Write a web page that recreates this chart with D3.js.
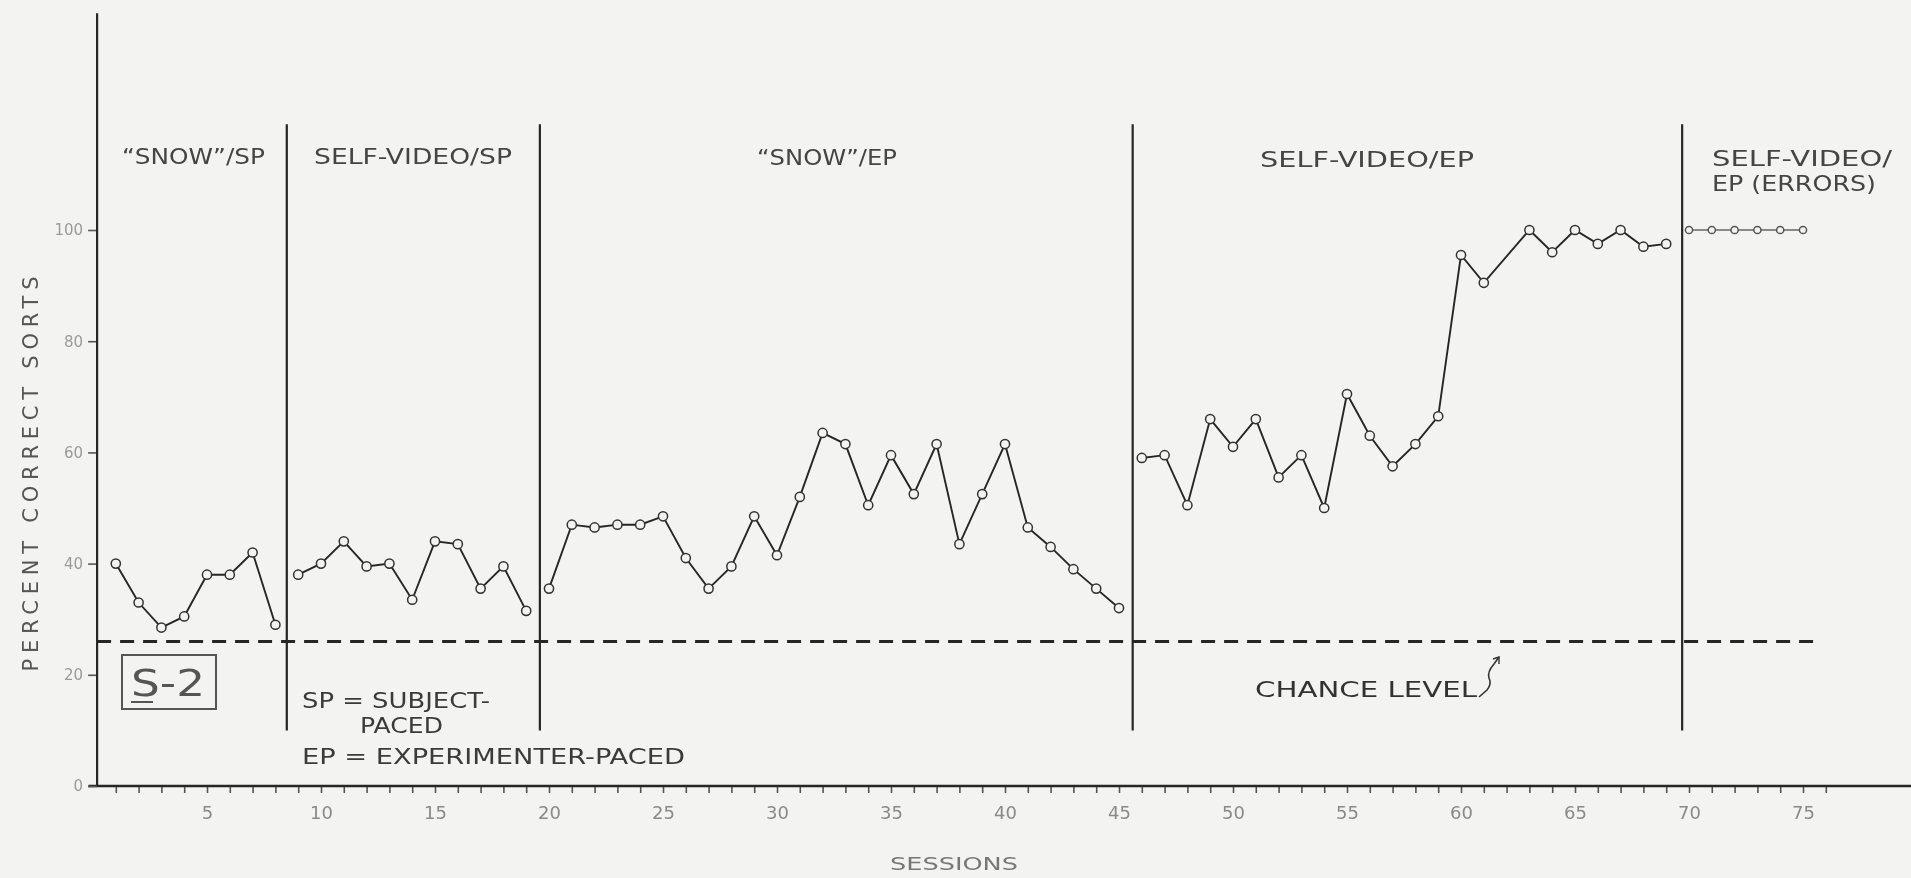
<!DOCTYPE html>
<html>
<head>
<meta charset="utf-8">
<script src="https://cdn.jsdelivr.net/npm/d3@7"></script>
<style>
  html, body { margin: 0; padding: 0; background: #f3f3f1; }
  svg { display: block; }
  text { font-family: "DejaVu Sans", "Liberation Sans", sans-serif; }
</style>
</head>
<body>
<svg id="chart" width="1911" height="878"></svg>
<script>
// Sessions with a recorded score (session 62 has no plotted point)
const sessions = [
  1, 2, 3, 4, 5, 6, 7, 8,
  9, 10, 11, 12, 13, 14, 15, 16, 17, 18, 19,
  20, 21, 22, 23, 24, 25, 26, 27, 28, 29, 30, 31, 32, 33, 34, 35, 36, 37, 38, 39, 40, 41, 42, 43, 44, 45,
  46, 47, 48, 49, 50, 51, 52, 53, 54, 55, 56, 57, 58, 59, 60, 61, 63, 64, 65, 66, 67, 68, 69,
  70, 71, 72, 73, 74, 75
];
// Percent correct sorts per session
const percentCorrect = [
  40, 33, 28.5, 30.5, 38, 38, 42, 29,
  38, 40, 44, 39.5, 40, 33.5, 44, 43.5, 35.5, 39.5, 31.5,
  35.5, 47, 46.5, 47, 47, 48.5, 41, 35.5, 39.5, 48.5, 41.5, 52, 63.5, 61.5, 50.5, 59.5, 52.5, 61.5, 43.5, 52.5, 61.5, 46.5, 43, 39, 35.5, 32,
  59, 59.5, 50.5, 66, 61, 66, 55.5, 59.5, 50, 70.5, 63, 57.5, 61.5, 66.5, 95.5, 90.5, 100, 96, 100, 97.5, 100, 97, 97.5,
  100, 100, 100, 100, 100, 100
];
// Condition phases and the session boundaries between them
const phaseLabels = [
  ["\u201CSNOW\u201D/SP"],
  ["SELF-VIDEO/SP"],
  ["\u201CSNOW\u201D/EP"],
  ["SELF-VIDEO/EP"],
  ["SELF-VIDEO/", "EP (ERRORS)"]
];
const phaseDividers = [8.5, 19.6, 45.6, 69.7];
const chanceLevel = 26;
const yTicks = [0, 20, 40, 60, 80, 100];
const xTickLabels = [5, 10, 15, 20, 25, 30, 35, 40, 45, 50, 55, 60, 65, 70, 75];
const legendLines = ["SP = SUBJECT-", "PACED", "EP = EXPERIMENTER-PACED"];
const subjectId = "S-2";

const svg = d3.select("#chart");
const ink = "#262626";

const x = d3.scaleLinear().domain([0, 80]).range([93, 1917]);
const y = d3.scaleLinear().domain([0, 100]).range([786, 230]);
const axisX = x(0.18);

// slight softness of the printed marks
const defs = svg.append("defs");
defs.append("filter").attr("id", "soft")
  .append("feGaussianBlur").attr("stdDeviation", 0.45);

const g = svg.append("g").attr("filter", "url(#soft)");

// ---- axes ----
const xAxis = d3.axisBottom(x)
  .tickValues(d3.range(1, 77))
  .tickSize(7)
  .tickFormat(d => xTickLabels.includes(d) ? d : "");
const gx = g.append("g").attr("transform", `translate(0,${y(0)})`).call(xAxis);
gx.select(".domain").remove();
gx.selectAll(".tick line").attr("stroke", "#555").attr("stroke-width", 1.6);
gx.selectAll(".tick text")
  .attr("y", 0).attr("dy", null)
  .attr("transform", "translate(0,33)")
  .attr("fill", "#8a8a8a")
  .style("font-size", "18px");
g.append("line")
  .attr("x1", x(-0.2)).attr("x2", x(80))
  .attr("y1", y(0)).attr("y2", y(0))
  .attr("stroke", ink).attr("stroke-width", 2.4);

const yAxis = d3.axisLeft(y).tickValues(yTicks).tickSize(9).tickPadding(5);
const gy = g.append("g").attr("transform", `translate(${axisX},0)`).call(yAxis);
gy.select(".domain").remove();
gy.selectAll(".tick line").attr("stroke", "#555").attr("stroke-width", 1.6);
gy.selectAll(".tick text").attr("fill", "#9a9a9a").style("font-size", "15px");
g.append("line")
  .attr("x1", axisX).attr("x2", axisX)
  .attr("y1", y(0)).attr("y2", y(139))
  .attr("stroke", ink).attr("stroke-width", 2.2);

// axis titles
g.append("text")
  .attr("transform", `translate(38,${474}) rotate(-90)`)
  .attr("text-anchor", "middle")
  .attr("textLength", 395).attr("lengthAdjust", "spacing")
  .attr("fill", "#555").style("font-size", "21px")
  .text("PERCENT   CORRECT   SORTS");
g.append("text")
  .attr("x", 954).attr("y", 870)
  .attr("text-anchor", "middle")
  .attr("textLength", 128).attr("lengthAdjust", "spacingAndGlyphs")
  .attr("fill", "#777").style("font-size", "18px")
  .text("SESSIONS");

// ---- phase dividers ----
g.selectAll("line.divider").data(phaseDividers).join("line")
  .attr("class", "divider")
  .attr("x1", d => x(d)).attr("x2", d => x(d))
  .attr("y1", y(119)).attr("y2", y(10))
  .attr("stroke", ink).attr("stroke-width", 2.2);

// phase labels: [left edge, right edge, baseline] per line
const labelBoxes = [
  [[122, 265, 164]],
  [[314, 512, 164]],
  [[757, 897, 165]],
  [[1260, 1474, 167]],
  [[1712, 1892, 166]].concat([[1712, 1876, 191]])
];
phaseLabels.forEach((lines, i) => {
  lines.forEach((txt, j) => {
    const [l, r, b] = labelBoxes[i][j];
    g.append("text")
      .attr("x", l).attr("y", b)
      .attr("textLength", r - l).attr("lengthAdjust", "spacingAndGlyphs")
      .attr("fill", "#444").style("font-size", "21px")
      .text(txt);
  });
});

// ---- chance level ----
g.append("line")
  .attr("x1", axisX).attr("x2", x(75.8))
  .attr("y1", y(chanceLevel)).attr("y2", y(chanceLevel))
  .attr("stroke", ink).attr("stroke-width", 3)
  .attr("stroke-dasharray", "14 9");
g.append("text")
  .attr("x", 1255).attr("y", 697)
  .attr("textLength", 222).attr("lengthAdjust", "spacingAndGlyphs")
  .attr("fill", "#333").style("font-size", "21px")
  .text("CHANCE  LEVEL");
g.append("path")
  .attr("d", "M1479,697 L1487,690 Q1492,684 1489,678 Q1487,672 1494,664 L1499,657")
  .attr("fill", "none").attr("stroke", "#333").attr("stroke-width", 1.6);
g.append("path")
  .attr("d", "M1493,659 L1499,657 L1499,664")
  .attr("fill", "none").attr("stroke", "#333").attr("stroke-width", 1.4);

// ---- subject tag ----
g.append("rect")
  .attr("x", 122).attr("y", 655).attr("width", 94).attr("height", 54)
  .attr("fill", "none").attr("stroke", "#555").attr("stroke-width", 2);
g.append("text")
  .attr("x", 131).attr("y", 696)
  .attr("textLength", 74).attr("lengthAdjust", "spacingAndGlyphs")
  .attr("fill", "#555").style("font-size", "37px")
  .text(subjectId);
g.append("line")
  .attr("x1", 131).attr("x2", 153).attr("y1", 702).attr("y2", 702)
  .attr("stroke", "#555").attr("stroke-width", 2);

// ---- pacing legend ----
const legendBoxes = [[302, 490, 708], [360, 443, 733], [302, 685, 764]];
legendLines.forEach((txt, i) => {
  const [l, r, b] = legendBoxes[i];
  g.append("text")
    .attr("x", l).attr("y", b)
    .attr("textLength", r - l).attr("lengthAdjust", "spacingAndGlyphs")
    .attr("fill", "#3a3a3a").style("font-size", "21px")
    .text(txt);
});

// ---- data ----
const points = sessions.map((s, i) => ({
  s, v: percentCorrect[i], phase: d3.bisectLeft(phaseDividers, s)
}));
const byPhase = d3.groups(points, d => d.phase);
const line = d3.line().x(d => x(d.s)).y(d => y(d.v));

byPhase.forEach(([phase, pts]) => {
  const last = phase === phaseDividers.length;
  g.append("path")
    .datum(pts)
    .attr("d", line)
    .attr("fill", "none")
    .attr("stroke", last ? "#666" : ink)
    .attr("stroke-width", last ? 1.3 : 1.9);
  g.selectAll(null).data(pts).join("circle")
    .attr("cx", d => x(d.s)).attr("cy", d => y(d.v))
    .attr("r", last ? 3.6 : 4.6)
    .attr("fill", "#f3f3f1")
    .attr("stroke", last ? "#555" : "#333")
    .attr("stroke-width", 1.5);
});
</script>
</body>
</html>
